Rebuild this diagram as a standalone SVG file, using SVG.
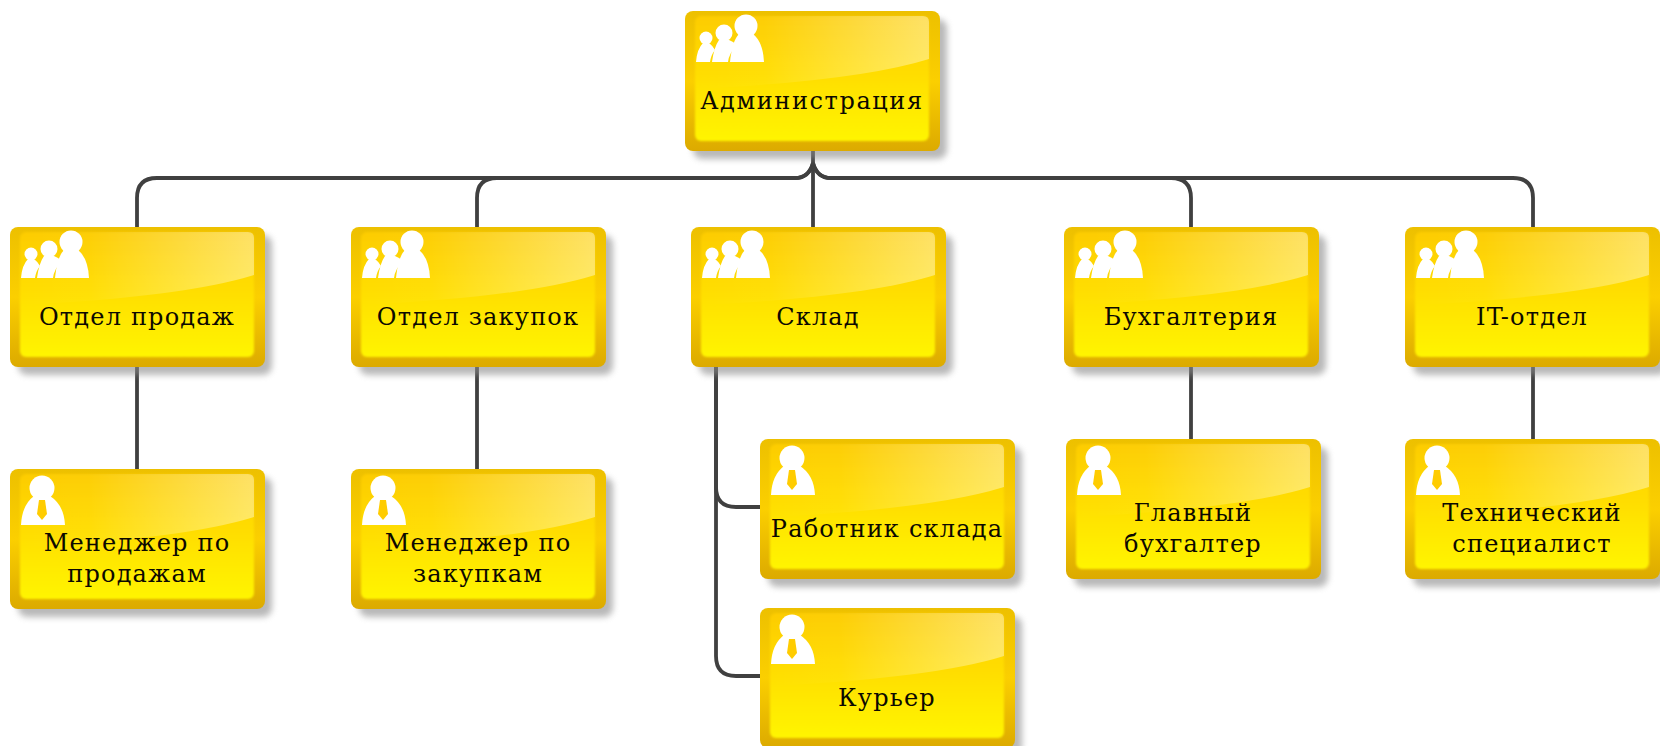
<svg xmlns="http://www.w3.org/2000/svg" width="1660" height="746" viewBox="0 0 1660 746">
<style>
text{font-family:"DejaVu Serif","Liberation Serif",serif;font-size:24px;fill:#0c0900;text-anchor:middle;letter-spacing:1.2px}
.c{fill:none;stroke:#404040;stroke-width:3.800}
</style>
<defs>
<filter id="sh" x="-10%" y="-10%" width="125%" height="125%"><feGaussianBlur stdDeviation="3"/></filter>
<filter id="soft" x="-5%" y="-5%" width="110%" height="110%"><feGaussianBlur stdDeviation="1"/></filter>
<linearGradient id="edge" x1="0" y1="0" x2="0" y2="1"><stop offset="0" stop-color="#edc000"/><stop offset="0.5" stop-color="#fbcf00"/><stop offset="1" stop-color="#dcaa00"/></linearGradient>
<linearGradient id="face" x1="0" y1="0" x2="0" y2="1"><stop offset="0" stop-color="#fdcc00"/><stop offset="0.5" stop-color="#ffdf00"/><stop offset="1" stop-color="#fff500"/></linearGradient>
<linearGradient id="glare" x1="0" y1="0" x2="1" y2="0"><stop offset="0" stop-color="#fff" stop-opacity="0"/><stop offset="0.3" stop-color="#fff" stop-opacity="0.03"/><stop offset="1" stop-color="#fff" stop-opacity=".4"/></linearGradient>
<g id="box">
<rect x="8" y="8" width="254" height="140" rx="9" fill="#8a8a8a" opacity=".6" filter="url(#sh)"/>
<rect width="255" height="140" rx="8" fill="url(#edge)"/>
<rect x="10" y="5" width="234" height="125" rx="6" fill="url(#face)" filter="url(#soft)"/>
<path d="M10 11q0-6 6-6h222q6 0 6 6v37q-70 22-234 30z" fill="url(#glare)"/>
</g>
<g id="group" fill="#fff">
<circle cx="21" cy="36" r="6.500"/><path d="M11 60q1-13 7-19h6q4 3 6 7q-4 5-5 12z"/>
<circle cx="39" cy="31" r="8.500"/><path d="M27 60q2-15 7-22h10q5 2 8 5q-8 8-9 17z"/>
<circle cx="61" cy="24" r="11.500"/><path d="M45 60q2-21 9-28h14q10 8 11 28z"/>
</g>
<g id="person">
<circle cx="32" cy="19" r="12.500" fill="#fff"/>
<path d="M11 56q1-20 13-29h16q14 9 15 29z" fill="#fff"/>
<path d="M29 31h6l2 14-5 6-5-6z" fill="#fc0"/>
</g>
</defs>
<g id="connectors">
<path class="c" d="M813 163Q809 178 795 178H157Q137 178 137 198V227"/>
<path class="c" d="M813 163Q809 178 795 178H497Q477 178 477 198V227"/>
<path class="c" d="M813 150V227"/>
<path class="c" d="M813 163Q817 178 831 178H1171Q1191 178 1191 198V227"/>
<path class="c" d="M813 163Q817 178 831 178H1513Q1533 178 1533 198V227"/>
<path class="c" d="M137 367V469"/>
<path class="c" d="M477 367V469"/>
<path class="c" d="M716 367V487Q716 507 736 507H760"/>
<path class="c" d="M716 367V656Q716 676 736 676H760"/>
<path class="c" d="M1191 367V439"/>
<path class="c" d="M1533 367V439"/>
</g>
<g id="n-admin" transform="translate(685 11)"><use href="#box"/><use href="#group" y="-9"/><text x="127" y="98" style="letter-spacing:1.600px">Администрация</text></g>
<g id="n-sales" transform="translate(10 227)"><use href="#box"/><use href="#group" y="-9"/><text x="127" y="98">Отдел продаж</text></g>
<g id="n-purch" transform="translate(351 227)"><use href="#box"/><use href="#group" y="-9"/><text x="127" y="98">Отдел закупок</text></g>
<g id="n-store" transform="translate(691 227)"><use href="#box"/><use href="#group" y="-9"/><text x="127" y="98">Склад</text></g>
<g id="n-acct" transform="translate(1064 227)"><use href="#box"/><use href="#group" y="-9"/><text x="127" y="98">Бухгалтерия</text></g>
<g id="n-it" transform="translate(1405 227)"><use href="#box"/><use href="#group" y="-9"/><text x="127" y="98">IT-отдел</text></g>
<g id="n-msales" transform="translate(10 469)"><use href="#box"/><use href="#person"/><text x="127" y="82">Менеджер по</text><text x="127" y="113">продажам</text></g>
<g id="n-mpurch" transform="translate(351 469)"><use href="#box"/><use href="#person"/><text x="127" y="82">Менеджер по</text><text x="127" y="113">закупкам</text></g>
<g id="n-worker" transform="translate(760 439)"><use href="#box"/><use href="#person"/><text x="127" y="98">Работник склада</text></g>
<g id="n-courier" transform="translate(760 608)"><use href="#box"/><use href="#person"/><text x="127" y="98">Курьер</text></g>
<g id="n-chief" transform="translate(1066 439)"><use href="#box"/><use href="#person"/><text x="127" y="82">Главный</text><text x="127" y="113">бухгалтер</text></g>
<g id="n-tech" transform="translate(1405 439)"><use href="#box"/><use href="#person"/><text x="127" y="82">Технический</text><text x="127" y="113">специалист</text></g>
</svg>
